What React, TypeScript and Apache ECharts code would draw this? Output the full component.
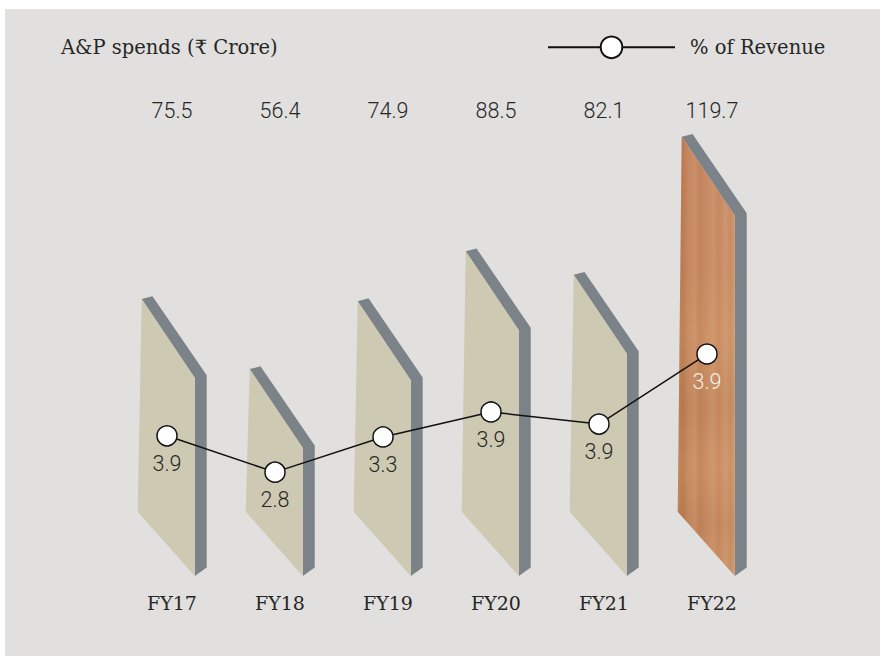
import React, { useEffect, useRef } from "react";
import * as echarts from "echarts";

const categories = ["FY17", "FY18", "FY19", "FY20", "FY21", "FY22"];
const spends = [75.5, 56.4, 74.9, 88.5, 82.1, 119.7];
const revenuePct = ["3.9", "2.8", "3.3", "3.9", "3.9", "3.9"];
// Height of each marker as drawn in the picture, read on the spend scale
const markerLevels = [38.2, 28.3, 37.9, 44.7, 41.4, 60.5];

const SERIF = '"DejaVu Serif", serif';
const SANS = 'Roboto, sans-serif';
const HIGHLIGHT = 5;
const INK = "#262626";

const wood = new echarts.graphic.LinearGradient(0, 0, 1, 0, [
  { offset: 0, color: "#c4875c" },
  { offset: 0.08, color: "#b97b50" },
  { offset: 0.18, color: "#c58a60" },
  { offset: 0.3, color: "#cd9269" },
  { offset: 0.38, color: "#c2855b" },
  { offset: 0.5, color: "#c98d65" },
  { offset: 0.62, color: "#cf966c" },
  { offset: 0.72, color: "#c78b60" },
  { offset: 0.84, color: "#d09970" },
  { offset: 0.92, color: "#c98f65" },
  { offset: 1, color: "#d19a70" },
]);

const grain = new echarts.graphic.LinearGradient(0, 0, 0, 1, [
  { offset: 0, color: "rgba(190,120,100,0.16)" },
  { offset: 0.3, color: "rgba(190,120,100,0.10)" },
  { offset: 0.45, color: "rgba(225,170,120,0.14)" },
  { offset: 0.62, color: "rgba(150,95,55,0.12)" },
  { offset: 0.75, color: "rgba(225,170,120,0.10)" },
  { offset: 0.88, color: "rgba(150,95,55,0.14)" },
  { offset: 1, color: "rgba(215,160,110,0.12)" },
]);

function renderBar(params: any, api: any) {
  const i = api.value(0);
  const v = api.value(1);
  const [cx, top] = api.coord([i, v]);
  const [, base] = api.coord([i, 0]);
  const face = [
    [cx - 30.3, top],
    [cx + 22.8, top + 79],
    [cx + 22.8, base],
    [cx - 34.3, base - 64.3],
  ];
  const side = [
    [cx - 30.3, top],
    [cx - 19.5, top - 2.8],
    [cx + 34.7, top + 76.4],
    [cx + 34.7, base - 8.5],
    [cx + 22.8, base],
    [cx + 22.8, top + 79],
  ];
  const children: any[] = [
    { type: "polygon", shape: { points: side }, style: { fill: "#7b8288" } },
    {
      type: "polygon",
      shape: { points: face },
      style: { fill: i === HIGHLIGHT ? wood : "#cdc9b2" },
    },
  ];
  if (i === HIGHLIGHT) {
    children.push({ type: "polygon", shape: { points: face }, style: { fill: grain } });
  }
  children.push({
    type: "text",
    style: {
      x: cx,
      y: 110,
      text: v.toFixed(1),
      align: "center",
      verticalAlign: "middle",
      font: `300 21.5px ${SANS}`,
      fill: INK,
    },
  });
  return { type: "group", children };
}

export default function App() {
  const ref = useRef<HTMLDivElement>(null);
  useEffect(() => {
    const chart = echarts.init(ref.current!, null, { renderer: "svg" });
    chart.setOption({
      animation: false,
      backgroundColor: "#ffffff",
      title: {
        text: "A&P spends (₹ Crore)",
        left: 61,
        top: 37,
        padding: 0,
        textStyle: { fontFamily: SERIF, fontWeight: "normal", fontSize: 19.5, color: INK },
      },
      legend: {
        left: 547,
        top: 35.5,
        padding: 0,
        itemWidth: 127,
        itemHeight: 27,
        itemGap: 0,
        textStyle: { fontFamily: SERIF, fontSize: 19.5, color: INK, padding: [0, 0, 0, 10] },
        data: ["% of Revenue"],
      },
      graphic: [
        {
          type: "rect",
          z: -10,
          silent: true,
          shape: { x: 5, y: 9, width: 875, height: 647 },
          style: { fill: "#e1e0de" },
        },
      ],
      grid: [
        { left: 118, width: 648, top: 99, height: 477 },
        { left: 113, width: 648, top: 99, height: 477 },
      ],
      xAxis: [
        {
          gridIndex: 0,
          type: "category",
          data: categories,
          axisLine: { show: false },
          axisTick: { show: false },
          axisLabel: {
            margin: 17,
            fontFamily: SERIF,
            fontSize: 19,
            color: INK,
          },
        },
        { gridIndex: 1, type: "category", data: categories, show: false },
      ],
      yAxis: [
        { gridIndex: 0, type: "value", min: 0, max: 130, show: false },
        { gridIndex: 1, type: "value", min: 0, max: 130, show: false },
      ],
      series: [
        {
          type: "custom",
          name: "A&P spends",
          xAxisIndex: 0,
          yAxisIndex: 0,
          renderItem: renderBar,
          encode: { x: 0, y: 1 },
          data: spends.map((v, i) => [i, v]),
          z: 2,
        },
        {
          type: "line",
          name: "% of Revenue",
          xAxisIndex: 1,
          yAxisIndex: 1,
          z: 5,
          symbol: "circle",
          symbolSize: 20,
          showAllSymbol: true,
          lineStyle: { color: "#111111", width: 1.5 },
          itemStyle: { color: "#ffffff", borderColor: "#111111", borderWidth: 1.5 },
          label: {
            show: true,
            position: "bottom",
            distance: 6,
            fontFamily: SANS,
            fontWeight: 300,
            fontSize: 21.5,
            color: INK,
            formatter: (p: any) => revenuePct[p.dataIndex],
          },
          data: markerLevels.map((v, i) =>
            i === HIGHLIGHT ? { value: v, label: { color: "#f7efe8" } } : v
          ),
        },
      ],
    });
    return () => chart.dispose();
  }, []);
  return (
    <div
      ref={ref}
      style={{ position: "fixed", left: 0, top: 0, width: 887, height: 656 }}
    />
  );
}
